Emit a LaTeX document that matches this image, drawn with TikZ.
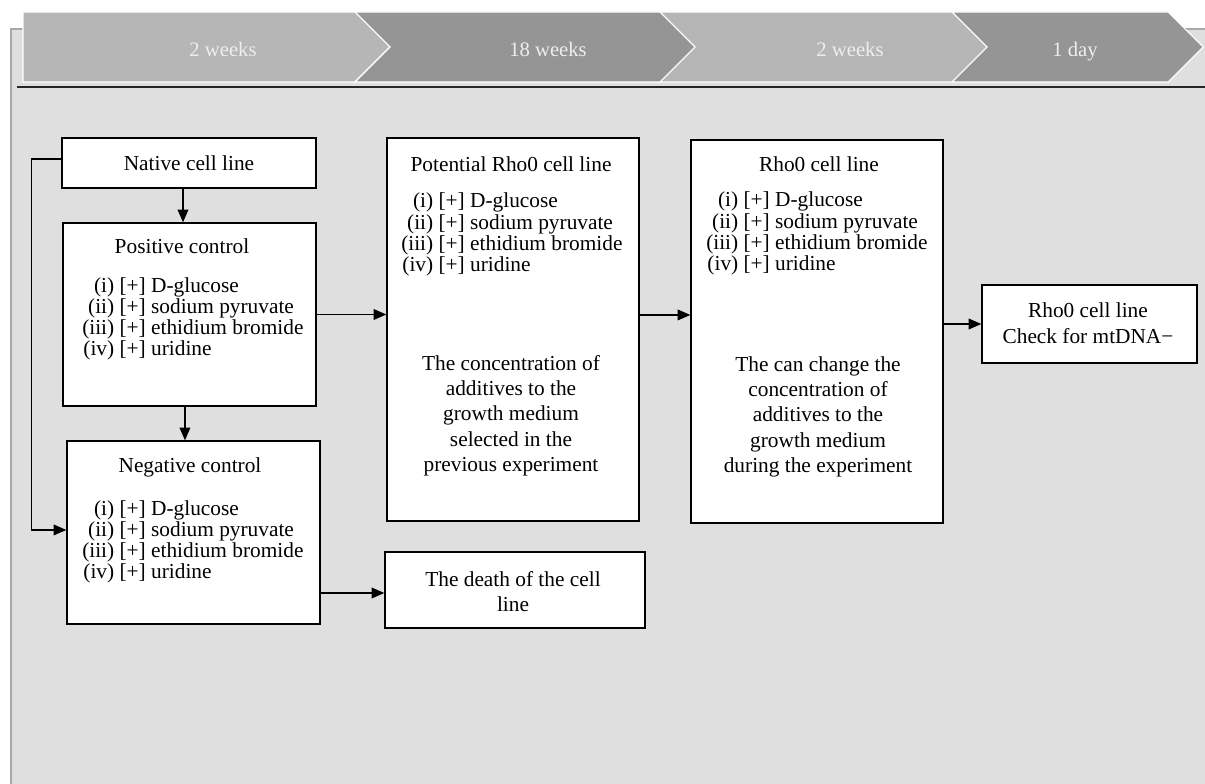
\documentclass[tikz,border=0pt]{standalone}
\usepackage{fontspec}
\setmainfont{Liberation Serif}
\usetikzlibrary{arrows.meta,fit,calc}
\definecolor{panel}{HTML}{DFDFDF}
\definecolor{panelline}{HTML}{A8A8A8}
\definecolor{chevlight}{HTML}{B6B6B6}
\definecolor{chevdark}{HTML}{959595}
\definecolor{chevtext}{HTML}{EEEEEE}
\newcommand\addlist{\begin{tabular}[t]{@{}r@{ }l@{}}(i)&[+] D-glucose\\(ii)&[+] sodium pyruvate\\(iii)&[+] ethidium bromide\\(iv)&[+] uridine\end{tabular}}
\newcommand\textlines[2]{\fontsize{16}{#1}\selectfont\begin{tabular}[t]{@{}c@{}}#2\end{tabular}}
\tikzset{
  boxnode/.style={draw=black,line width=1pt,fill=white,inner sep=0pt},
  txt/.style={inner sep=0pt,anchor=base,font=\fontsize{16}{15.5}\selectfont},
  listtxt/.style={inner sep=0pt,anchor=base west,font=\fontsize{16}{15.5}\selectfont},
  chevlabel/.style={inner sep=0pt,anchor=base,text=chevtext,font=\fontsize{15.5}{18}\selectfont},
  chevshape/.style={draw=white,line width=0.8pt},
  arr/.style={draw=black,line width=1pt,-{Triangle[length=9.5pt,width=8pt]}},
}
\begin{document}
\begin{tikzpicture}[x=0.75pt,y=-0.75pt]
\useasboundingbox (0,0) rectangle (1205,784);
% panel
\fill[panel] (11,29) rectangle (1205,784);
\draw[panelline,line width=0.8pt] (11,784) -- (11,29) -- (1205,29);
% chevrons
\filldraw[chevshape,fill=chevlight] (23,12) -- (355,12) -- (390,47) -- (355,82) -- (23,82) -- cycle;
\filldraw[chevshape,fill=chevdark] (355,12) -- (660,12) -- (695,47) -- (660,82) -- (355,82) -- (390,47) -- cycle;
\filldraw[chevshape,fill=chevlight] (660,12) -- (952,12) -- (987,47) -- (952,82) -- (660,82) -- (695,47) -- cycle;
\filldraw[chevshape,fill=chevdark] (952,12) -- (1168,12) -- (1203,47) -- (1168,82) -- (952,82) -- (987,47) -- cycle;
\node[chevlabel] (t1) at (223,57) {2 weeks};
\node[chevlabel] (t2) at (548,57) {18 weeks};
\node[chevlabel] (t3) at (850,57) {2 weeks};
\node[chevlabel] (t4) at (1075,57) {1 day};
% rule
\draw[black!85,line width=1.3pt] (17,87) -- (1205,87);
% boxes
\node[boxnode,fit={(62,138)(316,188)}] (native) {};
\node[boxnode,fit={(63,223)(316,406)}] (positive) {};
\node[boxnode,fit={(67,441)(320,624)}] (negative) {};
\node[boxnode,fit={(385,552)(645,628)}] (death) {};
\node[boxnode,fit={(387,138)(639,521)}] (potential) {};
\node[boxnode,fit={(691,140)(943,523)}] (rho) {};
\node[boxnode,fit={(982,285)(1197,363)}] (final) {};
% texts
\node[txt] (nativet) at (189,170.5) {Native cell line};
\node[txt] (posT) at (182,253) {Positive control};
\node[listtxt] (posL) at (82,292) {\addlist};
\node[txt] (negT) at (190,472) {Negative control};
\node[listtxt] (negL) at (82,515) {\addlist};
\node[txt] (potT) at (511,172) {Potential Rho0 cell line};
\node[listtxt] (potL) at (401,208) {\addlist};
\node[txt] (potB) at (511,370) {\textlines{19pt}{The concentration of\\additives to the\\growth medium\\selected in the\\previous experiment}};
\node[txt] (rhoT) at (819,172) {Rho0 cell line};
\node[listtxt] (rhoL) at (706,207) {\addlist};
\node[txt] (rhoB) at (818,371) {\textlines{19pt}{The can change the\\concentration of\\additives to the\\growth medium\\during the experiment}};
\node[txt] (finalt) at (1088,317) {\textlines{19.5pt}{Rho0 cell line\\Check for mtDNA−}};
\node[txt] (deatht) at (513,586) {\textlines{18.75pt}{The death of the cell\\line}};
% connectors
\draw[arr] ([xshift=-4.5pt]native.south) -- ([xshift=-4.5pt]native.south |- positive.north);
\draw[arr] ([xshift=-3.4pt]positive.south) -- ([xshift=-3.4pt]positive.south |- negative.north);
\draw[arr] (positive.east) -- (positive.east -| potential.west);
\draw[arr] ([yshift=10.9pt]potential.east) -- ([yshift=10.9pt]potential.east -| rho.west);
\draw[arr] (final.west -| rho.east) -- (final.west);
\draw[arr] ([yshift=-2.25pt]death.west -| negative.east) -- ([yshift=-2.25pt]death.west);
\draw[arr] ([yshift=3pt]native.west) -- ++(-30,0) |- ([yshift=1.9pt]negative.west);
\end{tikzpicture}
\end{document}
